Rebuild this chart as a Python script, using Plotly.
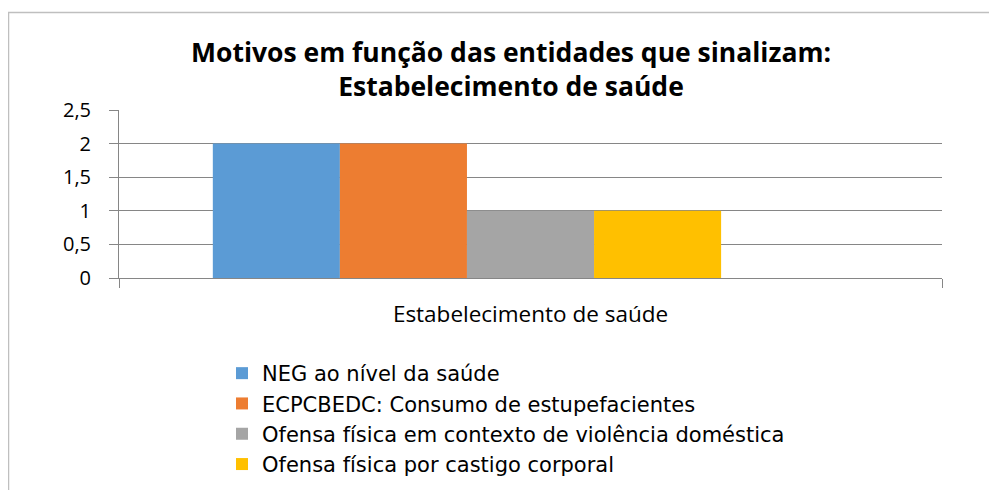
import plotly.graph_objects as go

categories = ["Estabelecimento de saúde"]
series_names = [
    "NEG ao nível da saúde",
    "ECPCBEDC: Consumo de estupefacientes",
    "Ofensa física em contexto de violência doméstica",
    "Ofensa física por castigo corporal",
]
series_values = [[2], [2], [1], [1]]
series_colors = ["#5B9BD5", "#ED7D31", "#A5A5A5", "#FFC000"]
# fifth, unnamed empty series present in the original (takes a slot in the group)
empty_series = [0]

y_ticks = [0, 0.5, 1, 1.5, 2, 2.5]

FONT = "Open Sans"
LEGEND_FONT = "DejaVu Sans"

# the page body adds an 8px offset; the figure fills the rest of the window
W, H = 989, 482
OFF = 8
PL, PR, PT, PB = 119 - OFF, 942 - OFF, 110 - OFF, 278 - OFF  # plot area (figure px)

fig = go.Figure()
for name, vals, col in zip(series_names, series_values, series_colors):
    fig.add_trace(go.Bar(
        x=categories, y=vals, name=name,
        marker=dict(color=col, line=dict(width=0)),
    ))
fig.add_trace(go.Bar(x=categories, y=empty_series, name="", showlegend=False,
                     marker=dict(color="rgba(0,0,0,0)", line=dict(width=0)),
                     hoverinfo="skip"))

fig.update_layout(
    width=W, height=H,
    paper_bgcolor="white", plot_bgcolor="white",
    margin=dict(l=PL, r=W - PR, t=PT, b=H - PB, autoexpand=False),
    barmode="group", bargap=0.228, bargroupgap=0,
    separators=", ",
    font=dict(family=FONT, color="#000000"),
    title=dict(
        text="<b>Motivos em função das entidades que sinalizam:<br>Estabelecimento de saúde</b>",
        x=(511 - OFF) / W, xanchor="center",
        y=1 - (62 - OFF) / H, yanchor="top",
        font=dict(family=FONT, size=26.5, color="#000000"),
    ),
    showlegend=True,
    legend=dict(
        xref="container", yref="container",
        x=(222 - OFF) / W, xanchor="left",
        y=1 - (353 - OFF) / H, yanchor="top",
        font=dict(family=LEGEND_FONT, size=21, color="#000000"),
        itemwidth=30, bgcolor="rgba(0,0,0,0)",
    ),
    xaxis=dict(
        type="category",
        showline=True, linecolor="#868686", linewidth=1,
        ticks="outside", ticklen=9, tickcolor="#868686",
        tickson="boundaries",
        showgrid=False,
        tickfont=dict(family=FONT, size=22.5, color="#000000"),
        ticklabelstandoff=16,
        fixedrange=True,
    ),
    yaxis=dict(
        range=[0, 2.5],
        tickvals=y_ticks,
        showline=True, linecolor="#868686", linewidth=1,
        ticks="outside", ticklen=9, tickcolor="#868686",
        showgrid=True, gridcolor="#868686", gridwidth=1,
        zeroline=False,
        tickfont=dict(family=FONT, size=20, color="#000000"),
        ticklabelstandoff=14,
        fixedrange=True,
    ),
)

# outer chart border (clipped at the right and bottom of the image)
pw, ph = PR - PL, PB - PT
fx = (8.5 - OFF - PL) / pw
fy_top = (PB - (12.5 - OFF)) / ph
fig.add_shape(
    type="path", xref="paper", yref="paper",
    path=f"M {fx} {(PB - H - 20) / ph} L {fx} {fy_top} L {(W + 20 - PL) / pw} {fy_top}",
    line=dict(color="#BFBFBF", width=1.5),
)

fig.write_html("out.html")
